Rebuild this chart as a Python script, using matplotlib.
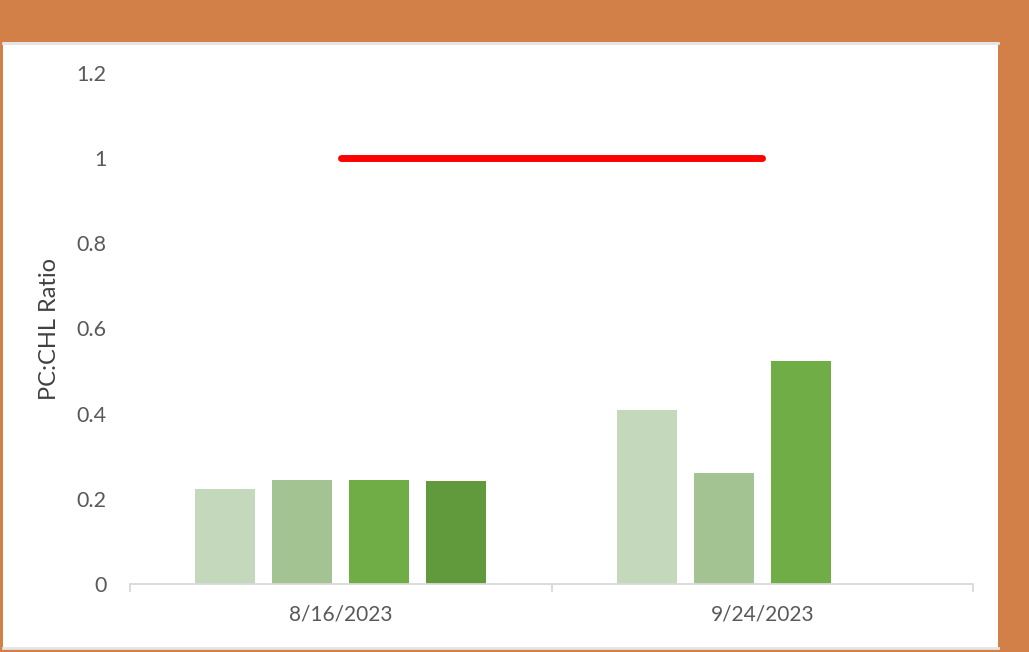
import matplotlib
matplotlib.use("Agg")
import matplotlib.pyplot as plt
from matplotlib.patches import Rectangle
from matplotlib.ticker import FixedLocator
import numpy as np

categories = ["8/16/2023", "9/24/2023"]
series_values = [
    [0.223, 0.409],
    [0.244, 0.261],
    [0.244, 0.524],
    [0.242, None],
]
series_colors = ["#C4D8BC", "#A3C492", "#70AD47", "#619A3D"]
threshold = [1.0, 1.0]
yticks = [0, 0.2, 0.4, 0.6, 0.8, 1.0, 1.2]
ytick_labels = ["0", "0.2", "0.4", "0.6", "0.8", "1", "1.2"]

W, H = 1029, 652
fig = plt.figure(figsize=(W / 100, H / 100), dpi=100)
fig.patch.set_facecolor("#D37F48")

# white panel
panel = Rectangle((3 / W, 1 - 648 / H), 995 / W, 606 / H,
                  transform=fig.transFigure, facecolor="white",
                  edgecolor="none", zorder=-10)
fig.add_artist(panel)
fig.add_artist(plt.Line2D([3 / W, 998 / W], [1 - 43 / H, 1 - 43 / H],
                          transform=fig.transFigure, color="#E4E4E4", lw=2, zorder=-9))
fig.add_artist(plt.Line2D([3 / W, 998 / W], [1 - 648 / H, 1 - 648 / H],
                          transform=fig.transFigure, color="#E4E4E4", lw=2, zorder=-9))

ax = fig.add_axes([130 / W, 1 - 584 / H, 843 / W, 511 / H])
ax.set_facecolor("none")
ax.set_zorder(5)

x = np.arange(len(categories))
n = len(series_values)
slot = 0.1827
bw = 0.1424
for i, (vals, col) in enumerate(zip(series_values, series_colors)):
    xs, ys = [], []
    for xi, v in zip(x, vals):
        if v is not None:
            xs.append(xi + (i - (n - 1) / 2) * slot)
            ys.append(v)
    ax.bar(xs, ys, width=bw, color=col, edgecolor="none", zorder=2)

ax.plot(x, threshold, color="#FF0000", lw=5, solid_capstyle="round", zorder=3)

ax.set_xlim(-0.5, 1.5)
ax.set_ylim(0, 1.2)

for s in ["top", "right", "left"]:
    ax.spines[s].set_visible(False)
ax.spines["bottom"].set_color("#D9D9D9")
ax.spines["bottom"].set_linewidth(1.3)

fnt = "Lato"
ax.set_yticks(yticks)
ax.set_yticklabels(ytick_labels, fontsize=15.5, color="#595959", family=fnt)
ax.tick_params(axis="y", length=0, pad=17)

ax.set_xticks(x)
ax.set_xticklabels(categories, fontsize=15, color="#595959", family=fnt)
ax.tick_params(axis="x", which="major", length=0, pad=15)
ax.xaxis.set_minor_locator(FixedLocator([-0.5, 0.5, 1.5]))
ax.tick_params(axis="x", which="minor", length=6, width=1.3, color="#D9D9D9", direction="out")

ax.set_ylabel("PC:CHL Ratio", fontsize=17, color="#404040", family=fnt, labelpad=12)

fig.savefig("out.png", dpi=100, facecolor=fig.get_facecolor())
